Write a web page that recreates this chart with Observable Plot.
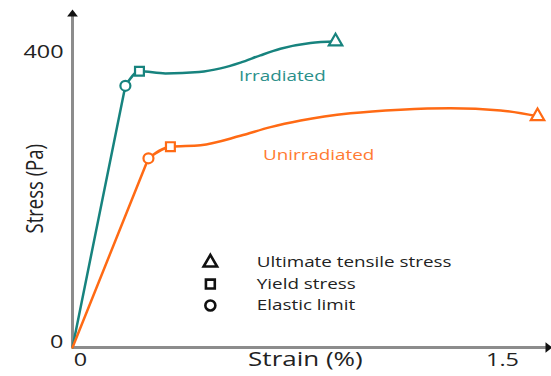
<!DOCTYPE html>
<html>
<head>
<meta charset="utf-8">
<script src="https://cdn.jsdelivr.net/npm/d3@7"></script>
<script src="https://cdn.jsdelivr.net/npm/@observablehq/plot@0.6"></script>
<style>
  body { margin: 0; background: #fff; }
  #chart svg { display: block; }
</style>
</head>
<body>
<div id="chart"></div>
<script>
// Stress–strain curves (strain in %, stress in Pa)
const irradiatedStrain = [0, 0.188, 0.238, 0.33, 0.45, 0.526, 0.597, 0.668, 0.739, 0.846, 0.935];
const irradiatedStress = [0, 361, 381, 378, 380, 385, 393, 403, 412, 420, 422];

const unirradiatedStrain = [0, 0.270, 0.348, 0.455, 0.597, 0.704, 0.811, 0.988, 1.166, 1.344, 1.522, 1.653];
const unirradiatedStress = [0, 261, 277, 279, 292, 304, 313, 323, 328, 330, 327, 319];

// Key points along each curve: ultimate tensile stress, yield stress, elastic limit
const pointKinds = ["Ultimate tensile stress", "Yield stress", "Elastic limit"];
const pointSymbols = ["triangle", "square", "circle"];
const irradiatedKeyStrain = [0.935, 0.238, 0.188];
const irradiatedKeyStress = [422, 381, 361];
const unirradiatedKeyStrain = [1.653, 0.348, 0.270];
const unirradiatedKeyStress = [319, 277, 261];

const seriesNames = ["Irradiated", "Unirradiated"];
const xTicks = [0, 1.5];
const yTicks = [0, 400];

const teal = "#17837e";
const orange = "#ff6a14";
const font = "'Open Sans', 'Noto Sans', sans-serif";
const stretch = 1.3;

const xScale = {domain: [0, 1.5], range: [72, 494]};
const yScale = {domain: [0, 400], range: [347, 57]};
const xAxisEnd = 1.69;
const yAxisEnd = 460;

const toRows = (xs, ys) => xs.map((x, i) => ({x, y: ys[i]}));
const irr = toRows(irradiatedStrain, irradiatedStress);
const unirr = toRows(unirradiatedStrain, unirradiatedStress);
const irrKey = irradiatedKeyStrain.map((x, i) => ({x, y: irradiatedKeyStress[i], symbol: pointSymbols[i]}));
const unirrKey = unirradiatedKeyStrain.map((x, i) => ({x, y: unirradiatedKeyStress[i], symbol: pointSymbols[i]}));

// flattened arrowhead pointing up (rotated for the x axis)
const arrowHead = {
  draw(context, size) {
    const s = Math.sqrt(size) / 2;
    context.moveTo(0, -s * 0.9);
    context.lineTo(s * 1.1, s * 0.5);
    context.lineTo(-s * 1.1, s * 0.5);
    context.closePath();
  }
};

// legend rows laid out beneath the curves
const legendX = 0.49, legendTextX = 0.655, legendTop = 117, legendStep = 29.5;
const legend = pointKinds.map((label, i) => ({label, symbol: pointSymbols[i], y: legendTop - i * legendStep}));

const chart = Plot.plot({
  width: 551,
  height: 376,
  x: {...xScale, axis: null},
  y: {...yScale, axis: null},
  symbol: {domain: pointSymbols, range: pointSymbols},
  style: {fontFamily: font, background: "#fff", overflow: "visible"},
  marks: [
    // axes with arrowheads
    Plot.ruleX([0], {y1: 0, y2: yAxisEnd, stroke: "#8c8c8c", strokeWidth: 3}),
    Plot.ruleY([0], {x1: 0, x2: xAxisEnd, stroke: "#8c8c8c", strokeWidth: 3}),
    Plot.dot([{x: 0, y: yAxisEnd}], {x: "x", y: "y", symbol: arrowHead, r: 5.5, fill: "#111", stroke: "none"}),
    Plot.dot([{x: xAxisEnd, y: 0}], {x: "x", y: "y", symbol: arrowHead, r: 5.5, fill: "#111", stroke: "none", rotate: 90}),

    // elastic (straight) segment, then the plastic region
    Plot.line(irr.slice(0, 2), {x: "x", y: "y", stroke: teal, strokeWidth: 2.5}),
    Plot.line(irr.slice(1), {x: "x", y: "y", stroke: teal, strokeWidth: 2.5, curve: "monotone-x"}),
    Plot.line(unirr.slice(0, 2), {x: "x", y: "y", stroke: orange, strokeWidth: 2.5}),
    Plot.line(unirr.slice(1), {x: "x", y: "y", stroke: orange, strokeWidth: 2.5, curve: "monotone-x"}),

    Plot.dot(irrKey, {x: "x", y: "y", symbol: "symbol", r: 5, stroke: teal, strokeWidth: 2.2, fill: "#fff"}),
    Plot.dot(unirrKey, {x: "x", y: "y", symbol: "symbol", r: 5, stroke: orange, strokeWidth: 2.2, fill: "#fff"}),

    // series labels
    Plot.text([seriesNames[0]], {x: 0.746, y: 374, text: d => d, fill: "#2a8f8a", fontSize: 14.5}),
    Plot.text([seriesNames[1]], {x: 0.875, y: 265, text: d => d, fill: "#ff7a32", fontSize: 14.5}),

    // legend
    Plot.dot(legend, {x: legendX, y: "y", symbol: "symbol", r: 5, stroke: "#111", strokeWidth: 2.6, fill: "#fff"}),
    Plot.text(legend, {x: legendTextX, y: "y", text: "label", textAnchor: "start", fill: "#222", fontSize: 14.5}),

    // tick labels
    Plot.text(xTicks, {x: d => d, y: 0, text: d => String(d), dx: 8, dy: 13, fill: "#222", fontSize: 18}),
    Plot.text(yTicks, {x: 0, y: d => d, text: d => String(d), dx: -9, dy: -5, textAnchor: "end", fill: "#222", fontSize: 18}),

    // axis titles
    Plot.text(["Strain (%)"], {x: 0.828, y: 0, text: d => d, dy: 12, fill: "#222", fontSize: 20}),
    Plot.text(["Stress (Pa)"], {x: 0, y: 219, text: d => d, dx: -37, rotate: -90, fill: "#222", fontSize: 18.5})
  ]
});

// widen labels horizontally on screen to the broad lettering of the figure
d3.select(chart).selectAll("text").each(function () {
  const t = d3.select(this);
  const tr = t.attr("transform") || "";
  if (!tr) return;
  const scale = tr.includes("rotate") ? `scale(1,${stretch})` : `scale(${stretch},1)`;
  t.attr("transform", `${tr} ${scale}`);
});

document.getElementById("chart").appendChild(chart);
</script>
</body>
</html>
